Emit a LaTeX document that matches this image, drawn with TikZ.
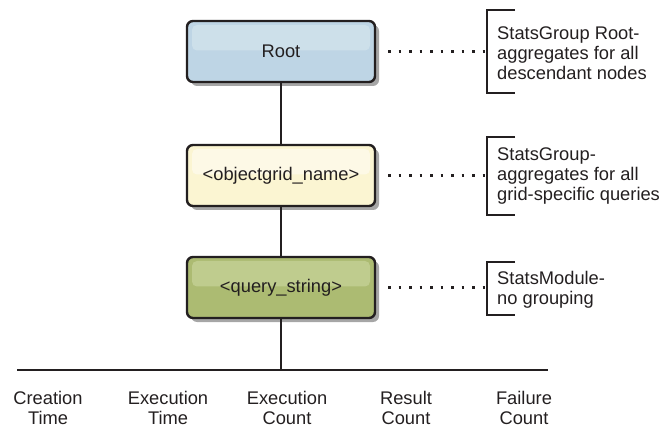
\documentclass[tikz,border=0pt]{standalone}
\usepackage{fontspec}
\setmainfont{Liberation Sans}
\usetikzlibrary{shadows}
\definecolor{rootlo}{HTML}{BED5E5}
\definecolor{roothi}{HTML}{CDE0EA}
\definecolor{gridlo}{HTML}{FBF5D2}
\definecolor{gridhi}{HTML}{FDF9E6}
\definecolor{querylo}{HTML}{ACBB72}
\definecolor{queryhi}{HTML}{BFCC8E}
\definecolor{ink}{HTML}{231F20}
\begin{document}
\begin{tikzpicture}[x=1pt,y=-1pt,
  every node/.style={font=\fontsize{18.3}{20}\selectfont, text=ink},
  levelbox/.style={draw=ink, line width=2.4pt, rounded corners=6pt,
    minimum width=188pt, minimum height=61pt, inner sep=0pt,
    drop shadow={shadow xshift=4pt, shadow yshift=-4pt, fill=black!35, opacity=1}},
  hl/.style={path picture={\fill[#1, rounded corners=5pt]
      ([xshift=5pt,yshift=-4pt]path picture bounding box.north west) rectangle
      ([xshift=-5pt,yshift=1pt]path picture bounding box.east);}},
  conn/.style={draw=ink, line width=1.9pt},
  dots/.style={draw=ink, line width=2.3pt, dash pattern=on 2.3pt off 8.2pt},
  brk/.style={draw=ink, line width=2pt},
  side/.style={anchor=west, align=left, inner sep=0pt},
  leaf/.style={align=center, inner sep=0pt}]
\useasboundingbox (0,0) rectangle (663,427);

\node[levelbox, fill=rootlo, hl=roothi] (root) at (281,51.5) {Root};
\node[levelbox, fill=gridlo, hl=gridhi] (grid) at (281,175.5) {<objectgrid\_name>};
\node[levelbox, fill=querylo, hl=queryhi] (query) at (281,287.5) {<query\_string>};

\draw[conn] (root.south) -- (grid.north);
\draw[conn] (grid.south) -- (query.north);
\coordinate (bus) at (281,370);
\coordinate (busL) at (17,370);
\coordinate (busR) at (548,370);
\draw[conn] (query.south) -- (bus);
\draw[conn] (busL) -- (busR);

\node[leaf] (ct) at (48,408) {Creation\\Time};
\node[leaf] (et) at (168,408) {Execution\\Time};
\node[leaf] (ec) at (287,408) {Execution\\Count};
\node[leaf] (rc) at (406,408) {Result\\Count};
\node[leaf] (fc) at (524,408) {Failure\\Count};

% side notes
\node[side] (n1) at (497,53) {StatsGroup Root-\\aggregates for all\\descendant nodes};
\node[side] (n2) at (497,176) {StatsGroup-\\aggregates for all\\grid-specific queries};
\node[side] (n3) at (497,289.5) {StatsModule-\\no grouping};

\draw[brk] (515,10) -- (487,10) -- (487,93) -- (515,93);
\draw[brk] (515,137) -- (487,137) -- (487,215) -- (515,215);
\draw[brk] (515,262) -- (487,262) -- (487,315) -- (515,315);

\coordinate (b1) at (486,51.5);
\coordinate (b2) at (486,175.5);
\coordinate (b3) at (486,287.5);
\draw[dots] ([xshift=12pt]root.east) -- (b1);
\draw[dots] ([xshift=12pt]grid.east) -- (b2);
\draw[dots] ([xshift=12pt]query.east) -- (b3);
\end{tikzpicture}
\end{document}
